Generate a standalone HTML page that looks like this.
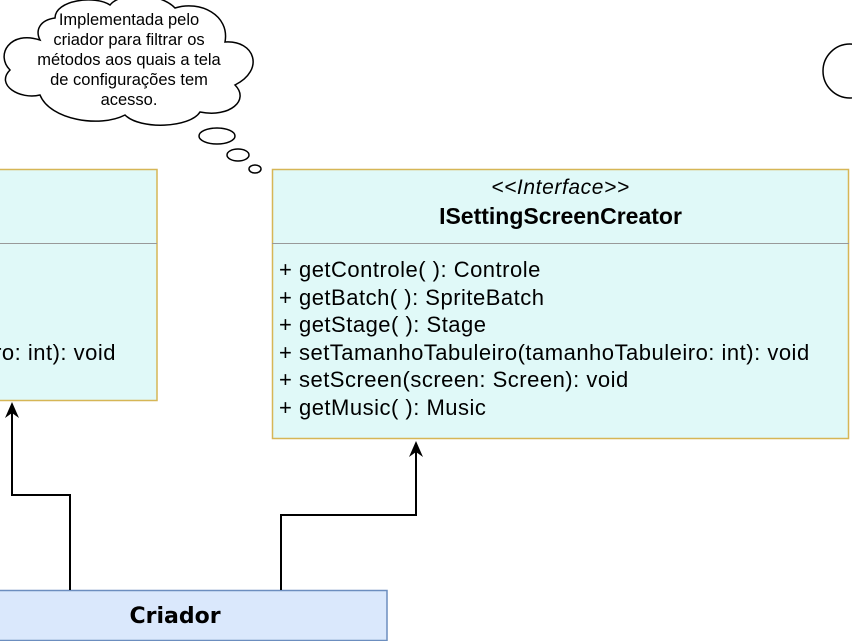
<!DOCTYPE html>
<html><head><style>
body{margin:0;width:852px;height:641px;overflow:hidden;background:#fff;position:relative;font-family:"Liberation Sans",sans-serif;}
.t{position:absolute;white-space:nowrap;color:#000;}
</style></head><body>
<svg width="852" height="641" style="position:absolute;left:0;top:0">
<path d="M40,40 C10,30 -5,55 10,70 C-5,85 20,100 40,95 C50,120 100,128 125,115 C140,130 190,128 200,112 C230,118 250,100 235,85 C265,70 255,40 225,42 C230,15 200,0 175,8 C160,-8 120,-8 110,5 C95,-5 55,0 55,18 C40,20 35,30 40,40 Z" fill="#fff" stroke="#000" stroke-width="1.5"/>
<ellipse cx="217" cy="136" rx="18" ry="8" fill="#fff" stroke="#000" stroke-width="1.5"/>
<ellipse cx="238" cy="155" rx="11" ry="6" fill="#fff" stroke="#000" stroke-width="1.5"/>
<ellipse cx="255" cy="169" rx="6" ry="4" fill="#fff" stroke="#000" stroke-width="1.5"/>
<circle cx="850" cy="71" r="27" fill="#fff" stroke="#000" stroke-width="1.5"/>
<rect x="-5" y="169.5" width="162" height="231" fill="#e0f9f8" stroke="#d6b656" stroke-width="1.5"/>
<line x1="-5" y1="243.5" x2="157" y2="243.5" stroke="#999" stroke-width="1"/>
<rect x="272.5" y="169.5" width="576" height="269" fill="#e0f9f8" stroke="#d6b656" stroke-width="1.5"/>
<line x1="272" y1="243.5" x2="849" y2="243.5" stroke="#999" stroke-width="1"/>
<rect x="-5" y="590.5" width="392" height="50" fill="#dae8fc" stroke="#6c8ebf" stroke-width="1.5"/>
<polyline points="70,590 70,495 12,495 12,410" fill="none" stroke="#000" stroke-width="2"/>
<path d="M12,402 L5,418 L12,413 L19,418 Z" fill="#000"/>
<polyline points="281,590 281,515 416,515 416,450" fill="none" stroke="#000" stroke-width="2"/>
<path d="M416,441 L409,457 L416,452 L423,457 Z" fill="#000"/>
</svg>
<div class="t" style="left:0px;top:10px;width:258px;text-align:center;font-size:16.5px;line-height:20px;white-space:normal">Implementada pelo<br>criador para filtrar os<br>métodos aos quais a tela<br>de configurações tem<br>acesso.</div>
<div class="t" style="left:-200px;width:316px;text-align:right;top:340px;font-size:22px;letter-spacing:0.5px">ro: int): void</div>
<div class="t" style="left:272px;width:577px;text-align:center;top:176px;font-size:21px;letter-spacing:0.6px;font-style:italic">&lt;&lt;Interface&gt;&gt;</div>
<div class="t" style="left:272px;width:577px;text-align:center;top:203px;font-size:23px;font-weight:bold">ISettingScreenCreator</div>
<div class="t" style="left:279px;top:256px;font-size:22px;letter-spacing:0.5px;line-height:27.5px">+ getControle( ): Controle<br>+ getBatch( ): SpriteBatch<br>+ getStage( ): Stage<br>+ setTamanhoTabuleiro(tamanhoTabuleiro: int): void<br>+ setScreen(screen: Screen): void<br>+ getMusic( ): Music</div>
<div class="t" style="left:0;width:350px;text-align:center;top:604px;font-size:22px;font-weight:bold;font-family:'DejaVu Sans',sans-serif">Criador</div>
</body></html>
